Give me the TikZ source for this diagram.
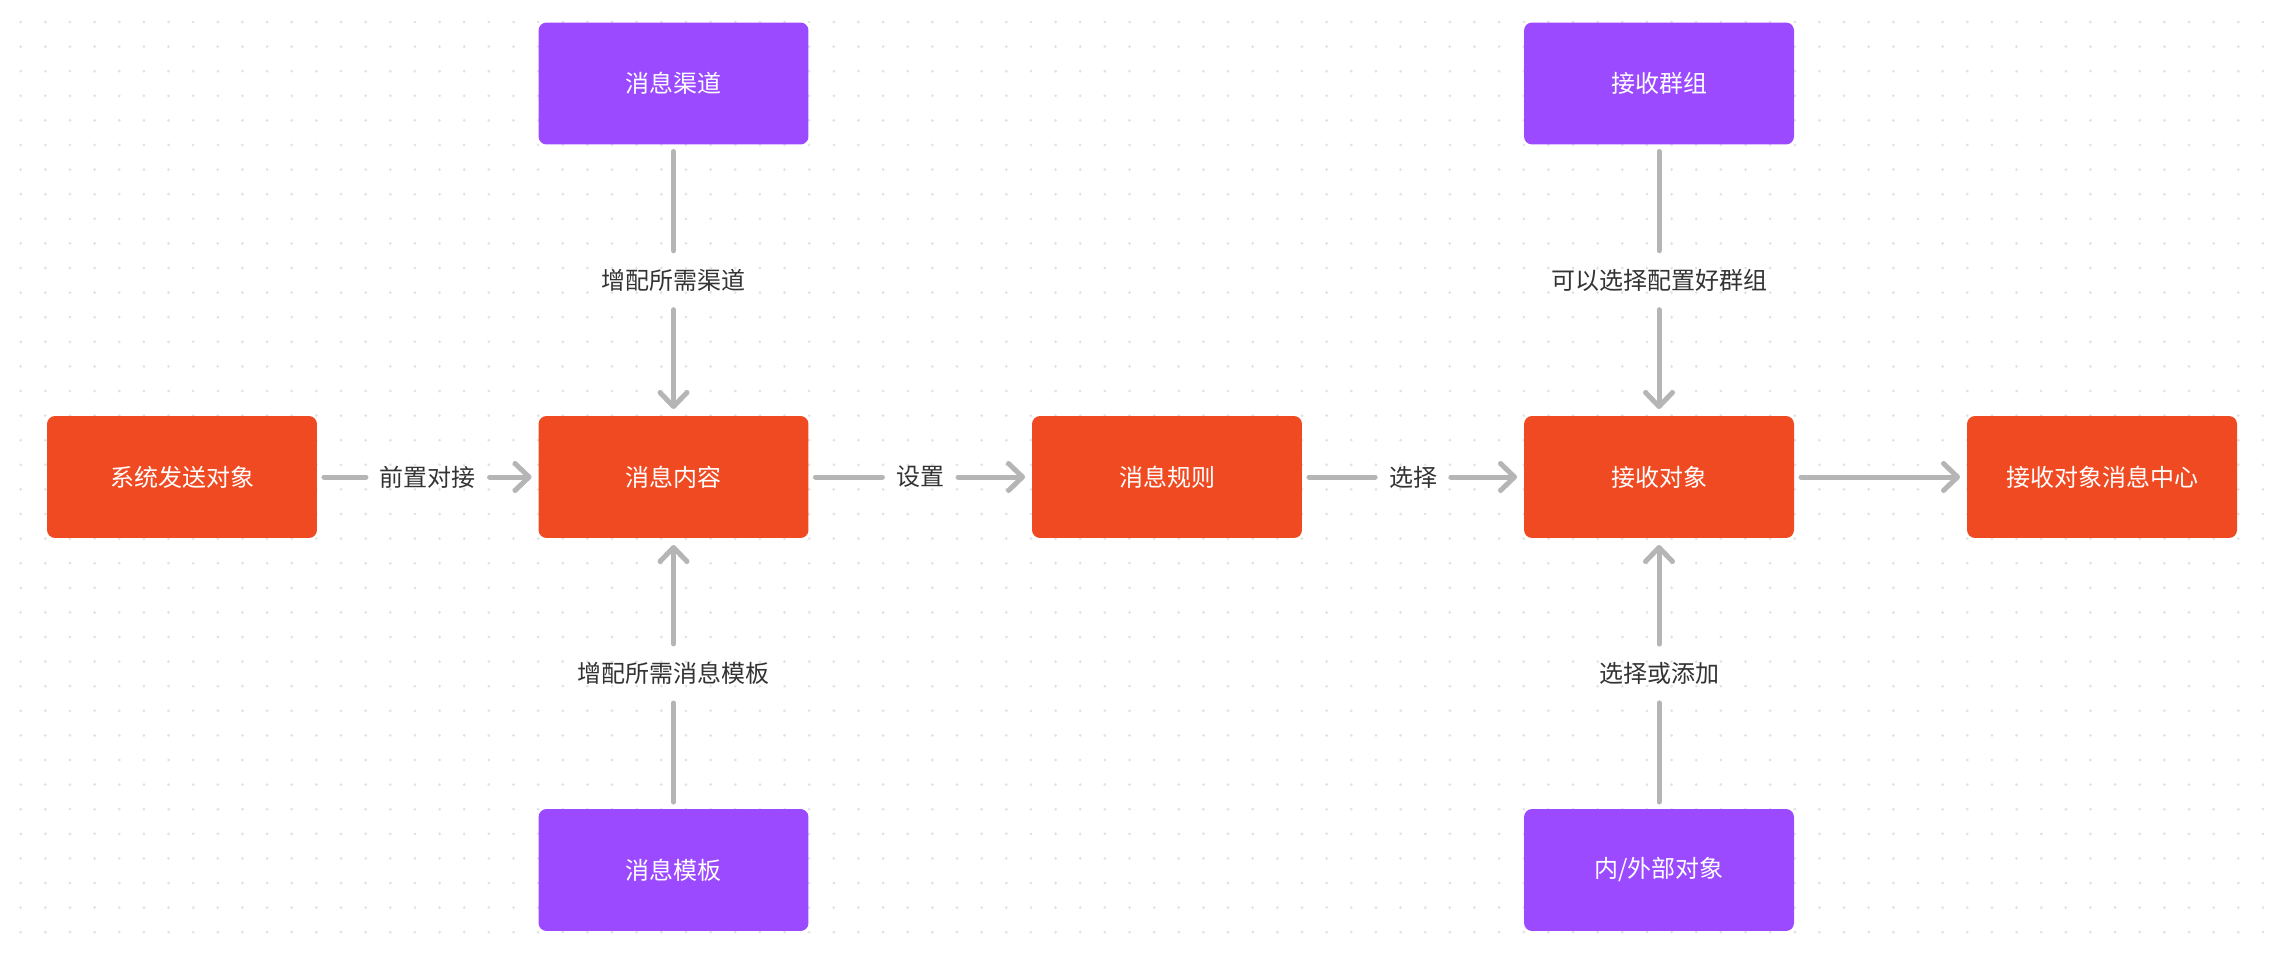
\documentclass[tikz,border=0pt]{standalone}
\usepackage{fontspec}
\setmainfont{Noto Sans CJK SC}
\usetikzlibrary{arrows.meta}
\definecolor{naranja}{HTML}{F04A23}
\definecolor{morado}{HTML}{9B4AFF}
\definecolor{gris}{HTML}{B5B5B5}
\definecolor{punto}{HTML}{E2E2E2}
\definecolor{texto}{HTML}{333333}
\begin{document}
\begin{tikzpicture}[x=0.02cm, y=-0.02cm,
    every node/.style={font=\fontsize{13.66}{16}\selectfont},
    box/.style={rectangle, rounded corners=0.16cm, minimum width=5.4cm, minimum height=2.44cm, inner sep=0pt, outer sep=0.14cm, text=white},
    main/.style={box, fill=naranja},
    side/.style={box, fill=morado},
    lbl/.style={text=texto, inner xsep=0.27cm, inner ysep=0.36cm},
    link/.style={draw=gris, line width=0.1cm, line cap=round},
    arrow/.style={link, -{Straight Barb[round, length=0.28cm, width=0.54cm]}}]
    % Fondo
    \fill[white] (0,0) rectangle (2274,956);
    \useasboundingbox (0,0) rectangle (2274,956);
    \foreach \i in {0,...,91}
        \foreach \j in {0,...,37}
            \fill[punto] (20.7+24.64*\i, 22+24.6*\j) circle[radius=0.03cm];

    % Cajas
    \node[main] (sender) at (182,477) {系统发送对象};
    \node[main] (content) at (673.5,477) {消息内容};
    \node[main] (rule) at (1167,477) {消息规则};
    \node[main] (receiver) at (1659,477) {接收对象};
    \node[main] (inbox) at (2102,477) {接收对象消息中心};
    \node[side] (channel) at (673.5,83.5) {消息渠道};
    \node[side] (template) at (673.5,870) {消息模板};
    \node[side] (group) at (1659,83.5) {接收群组};
    \node[side] (members) at (1659,870) {内/外部对象};

    % Etiquetas
    \path (sender) -- node[lbl] (lpre) {前置对接} (content);
    \path (content) -- node[lbl] (lset) {设置} (rule);
    \path (rule) -- node[lbl] (lsel) {选择} (receiver);
    \path (channel) -- node[lbl] (lchan) {增配所需渠道} (content);
    \path (template) -- node[lbl] (ltpl) {增配所需消息模板} (content);
    \path (group) -- node[lbl] (lgrp) {可以选择配置好群组} (receiver);
    \path (members) -- node[lbl] (ladd) {选择或添加} (receiver);

    % Conexiones
    \draw[link] (sender) -- (lpre);
    \draw[arrow] (lpre) -- (content);
    \draw[link] (content) -- (lset);
    \draw[arrow] (lset) -- (rule);
    \draw[link] (rule) -- (lsel);
    \draw[arrow] (lsel) -- (receiver);
    \draw[arrow] (receiver) -- (inbox);
    \draw[link] (channel) -- (lchan);
    \draw[arrow] (lchan) -- (content);
    \draw[link] (template) -- (ltpl);
    \draw[arrow] (ltpl) -- (content);
    \draw[link] (group) -- (lgrp);
    \draw[arrow] (lgrp) -- (receiver);
    \draw[link] (members) -- (ladd);
    \draw[arrow] (ladd) -- (receiver);
\end{tikzpicture}
\end{document}
